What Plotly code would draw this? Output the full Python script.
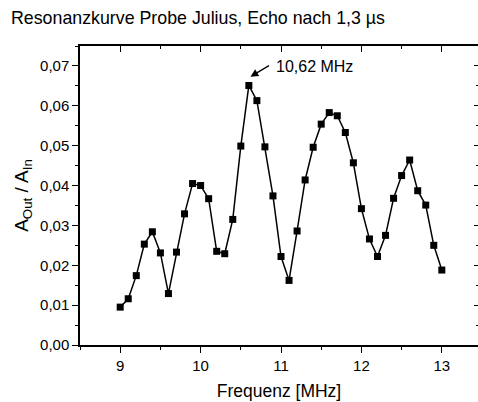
import plotly.graph_objects as go

freq = [9.0, 9.1, 9.2, 9.3, 9.4, 9.5, 9.6, 9.7, 9.8, 9.9,
        10.0, 10.1, 10.2, 10.3, 10.4, 10.5, 10.6, 10.7, 10.8, 10.9,
        11.0, 11.1, 11.2, 11.3, 11.4, 11.5, 11.6, 11.7, 11.8, 11.9,
        12.0, 12.1, 12.2, 12.3, 12.4, 12.5, 12.6, 12.7, 12.8, 12.9, 13.0]
ratio = [0.0095, 0.0116, 0.0174, 0.0253, 0.0284, 0.0231, 0.0129, 0.0233, 0.0329, 0.0405,
         0.0400, 0.0367, 0.0235, 0.0229, 0.0315, 0.0499, 0.0651, 0.0613, 0.0497, 0.0374,
         0.0222, 0.0162, 0.0286, 0.0414, 0.0496, 0.0554, 0.0583, 0.0575, 0.0533, 0.0457,
         0.0342, 0.0266, 0.0222, 0.0275, 0.0368, 0.0425, 0.0464, 0.0387, 0.0351, 0.0250, 0.0188]
y_ticks = [0.00, 0.01, 0.02, 0.03, 0.04, 0.05, 0.06, 0.07]
y_ticklabels = ["0,00", "0,01", "0,02", "0,03", "0,04", "0,05", "0,06", "0,07"]
x_ticks = [9, 10, 11, 12, 13]
x_ticklabels = ["9", "10", "11", "12", "13"]
peak_label = "10,62 MHz"
peak_x = 10.62

FONT = "Liberation Sans, Arial, sans-serif"
XR = [8.5, 13.45]
YR = [0.0, 0.075]

fig = go.Figure()
fig.add_trace(go.Scatter(
    x=freq, y=ratio, mode="lines+markers",
    line=dict(color="black", width=1.5),
    marker=dict(symbol="square", size=7, color="black"),
    showlegend=False, hoverinfo="x+y"))
# helper trace to anchor the mirrored (top/right) axes
fig.add_trace(go.Scatter(
    x=freq, y=ratio, mode="markers", xaxis="x2", yaxis="y2",
    marker=dict(opacity=0), showlegend=False, hoverinfo="skip"))

fig.update_layout(
    width=478, height=402,
    margin=dict(l=80, r=0, t=46, b=57),
    paper_bgcolor="white", plot_bgcolor="white",
    font=dict(family=FONT, size=15, color="black"),
    xaxis=dict(
        range=XR, tickvals=x_ticks, ticktext=x_ticklabels,
        ticks="outside", ticklen=6, tickwidth=1.2, tickcolor="black",
        minor=dict(dtick=0.5, tick0=8.5, ticks="outside", ticklen=3, tickwidth=1.2, tickcolor="black"),
        showline=True, linecolor="black", linewidth=1.5,
        showgrid=False, zeroline=False,
        title=dict(text="Frequenz [MHz]", font=dict(size=17.5), standoff=12),
        tickfont=dict(size=15)),
    yaxis=dict(
        range=YR, tickvals=y_ticks, ticktext=y_ticklabels,
        ticks="outside", ticklen=6, tickwidth=1.2, tickcolor="black",
        minor=dict(dtick=0.005, tick0=0, ticks="outside", ticklen=3, tickwidth=1.2, tickcolor="black"),
        showline=True, linecolor="black", linewidth=1.5,
        showgrid=False, zeroline=False,
        title=dict(text="A<sub>Out</sub> / A<sub>In</sub>", font=dict(size=19), standoff=6),
        tickfont=dict(size=15)),
    xaxis2=dict(
        range=XR, overlaying="x", side="top", anchor="y",
        tickvals=x_ticks, showticklabels=False,
        ticks="inside", ticklen=6, tickwidth=1.2, tickcolor="black",
        minor=dict(dtick=0.5, tick0=8.5, ticks="inside", ticklen=3, tickwidth=1.2, tickcolor="black"),
        showline=True, linecolor="black", linewidth=1.5,
        showgrid=False, zeroline=False),
    yaxis2=dict(
        range=YR, overlaying="y", side="right", anchor="x",
        tickvals=y_ticks, showticklabels=False,
        ticks="inside", ticklen=4, tickwidth=1.2, tickcolor="black",
        minor=dict(dtick=0.005, tick0=0, ticks="inside", ticklen=2, tickwidth=1.2, tickcolor="black"),
        showline=False, showgrid=False, zeroline=False),
)

fig.add_annotation(
    text="Resonanzkurve Probe Julius, Echo nach 1,3 µs",
    xref="paper", yref="paper", x=-71/398, y=1 + (46 - 18) / 299,
    xanchor="left", yanchor="middle", showarrow=False,
    font=dict(size=17.8, family=FONT))

peak_y = max(ratio)
fig.add_annotation(
    x=peak_x, y=peak_y + 0.0022, xref="x", yref="y",
    ax=20, ay=-12, axref="pixel", ayref="pixel",
    showarrow=True, arrowhead=2, arrowsize=1.2, arrowwidth=1.3, arrowcolor="black",
    text="")
fig.add_annotation(
    x=peak_x, y=peak_y + 0.0022, xref="x", yref="y",
    xshift=24, yshift=10, xanchor="left", yanchor="middle",
    text=peak_label, showarrow=False, font=dict(size=16, family=FONT))

fig.write_html("out.html")
